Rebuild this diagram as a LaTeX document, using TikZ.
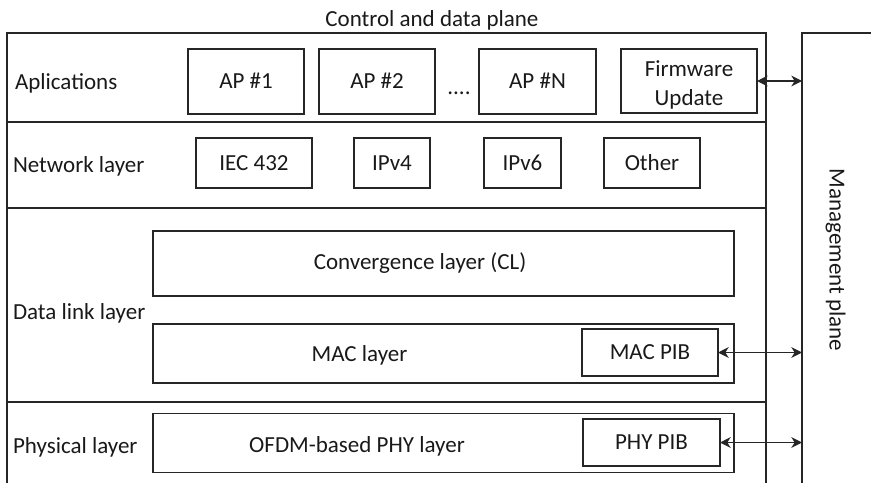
\documentclass[tikz,border=0pt]{standalone}
\usepackage{fontspec}
\setmainfont{Carlito}
\usetikzlibrary{arrows.meta}
\begin{document}
\begin{tikzpicture}[x=0.75pt,y=-0.75pt,
  every node/.style={font=\fontsize{17.25}{21.75}\selectfont, inner sep=0pt, outer sep=0pt, text=black!90},
  frame/.style={draw=black!85, line width=1pt},
  box/.style={frame, text height=11.1pt, text depth=0pt},
  lbl/.style={text height=11.1pt, text depth=0pt},
  link/.style={line width=1pt, draw=black!85, {Stealth[length=8pt,width=8pt,inset=2.5pt]}-{Stealth[length=8pt,width=8pt,inset=2.5pt]}}]
\clip (0,0) rectangle (871,482);
% frames
\node[frame, minimum width=569.25pt, minimum height=350.25pt] (stack) at (386.5,266.5) {};
\node[frame, minimum width=73.5pt, minimum height=365.25pt] (mgmt) at (851,276.5) {};
\draw[frame] (stack.west |- 0,122) -- (stack.east |- 0,122);
\draw[frame] (stack.west |- 0,208) -- (stack.east |- 0,208);
\draw[frame] (stack.west |- 0,402) -- (stack.east |- 0,402);
% titles
\node[lbl] (title) at (432,19) {Control and data plane};
\node[lbl, rotate=-90] (mgmtlbl) at (837,260) {Management plane};
% row labels
\node[lbl, anchor=west] (rowapp) at (15,82.5) {Aplications};
\node[lbl, anchor=west] (rownet) at (13,165.5) {Network layer};
\node[lbl, anchor=west] (rowdl) at (13,312) {Data link layer};
\node[lbl, anchor=west] (rowphy) at (13,446) {Physical layer};
% applications
\node[box, minimum width=87pt, minimum height=48.75pt] (ap1) at (246,81.5) {AP \#1};
\node[box, minimum width=87pt, minimum height=48.75pt] (ap2) at (377,81.5) {AP \#2};
\node[anchor=base] (dots) at (459,94) {....};
\node[box, minimum width=87.75pt, minimum height=48.75pt] (apn) at (537.5,81.5) {AP \#N};
\node[frame, minimum width=102pt, minimum height=48pt] (fw) at (689,81) {};
\node[align=center] (fwtext) at (689,84.5) {Firmware\\Update};
% network
\node[box, minimum width=87pt, minimum height=37.5pt] (iec) at (254,163) {IEC 432};
\node[box, minimum width=57pt, minimum height=37.5pt] (ipv4) at (392,163) {IPv4};
\node[box, minimum width=57.75pt, minimum height=37.5pt] (ipv6) at (522.5,163) {IPv6};
\node[box, minimum width=72pt, minimum height=37.5pt] (other) at (652,163) {Other};
% data link
\node[box, minimum width=435.75pt, minimum height=48.75pt] (cl) at (443.5,263.5) {};
\node[lbl] (cltext) at (420,262.5) {Convergence layer (CL)};
\node[box, minimum width=435.75pt, minimum height=44.25pt] (mac) at (443.5,353.5) {};
\node[lbl] (mactext) at (359.5,354.5) {MAC layer};
\node[box, minimum width=102pt, minimum height=35.25pt] (macpib) at (650,352.5) {MAC PIB};
% physical
\node[box, minimum width=435.75pt, minimum height=44.25pt] (ofdm) at (443.5,443) {};
\node[lbl] (ofdmtext) at (357,445) {OFDM-based PHY layer};
\node[box, minimum width=102.75pt, minimum height=35.25pt] (phypib) at (651.5,442.5) {PHY PIB};
% connectors
\draw[link] (fw.east) -- (fw.east -| mgmt.west);
\draw[link] (macpib.east) -- (macpib.east -| mgmt.west);
\draw[link] (phypib.east) -- (phypib.east -| mgmt.west);
\end{tikzpicture}
\end{document}
